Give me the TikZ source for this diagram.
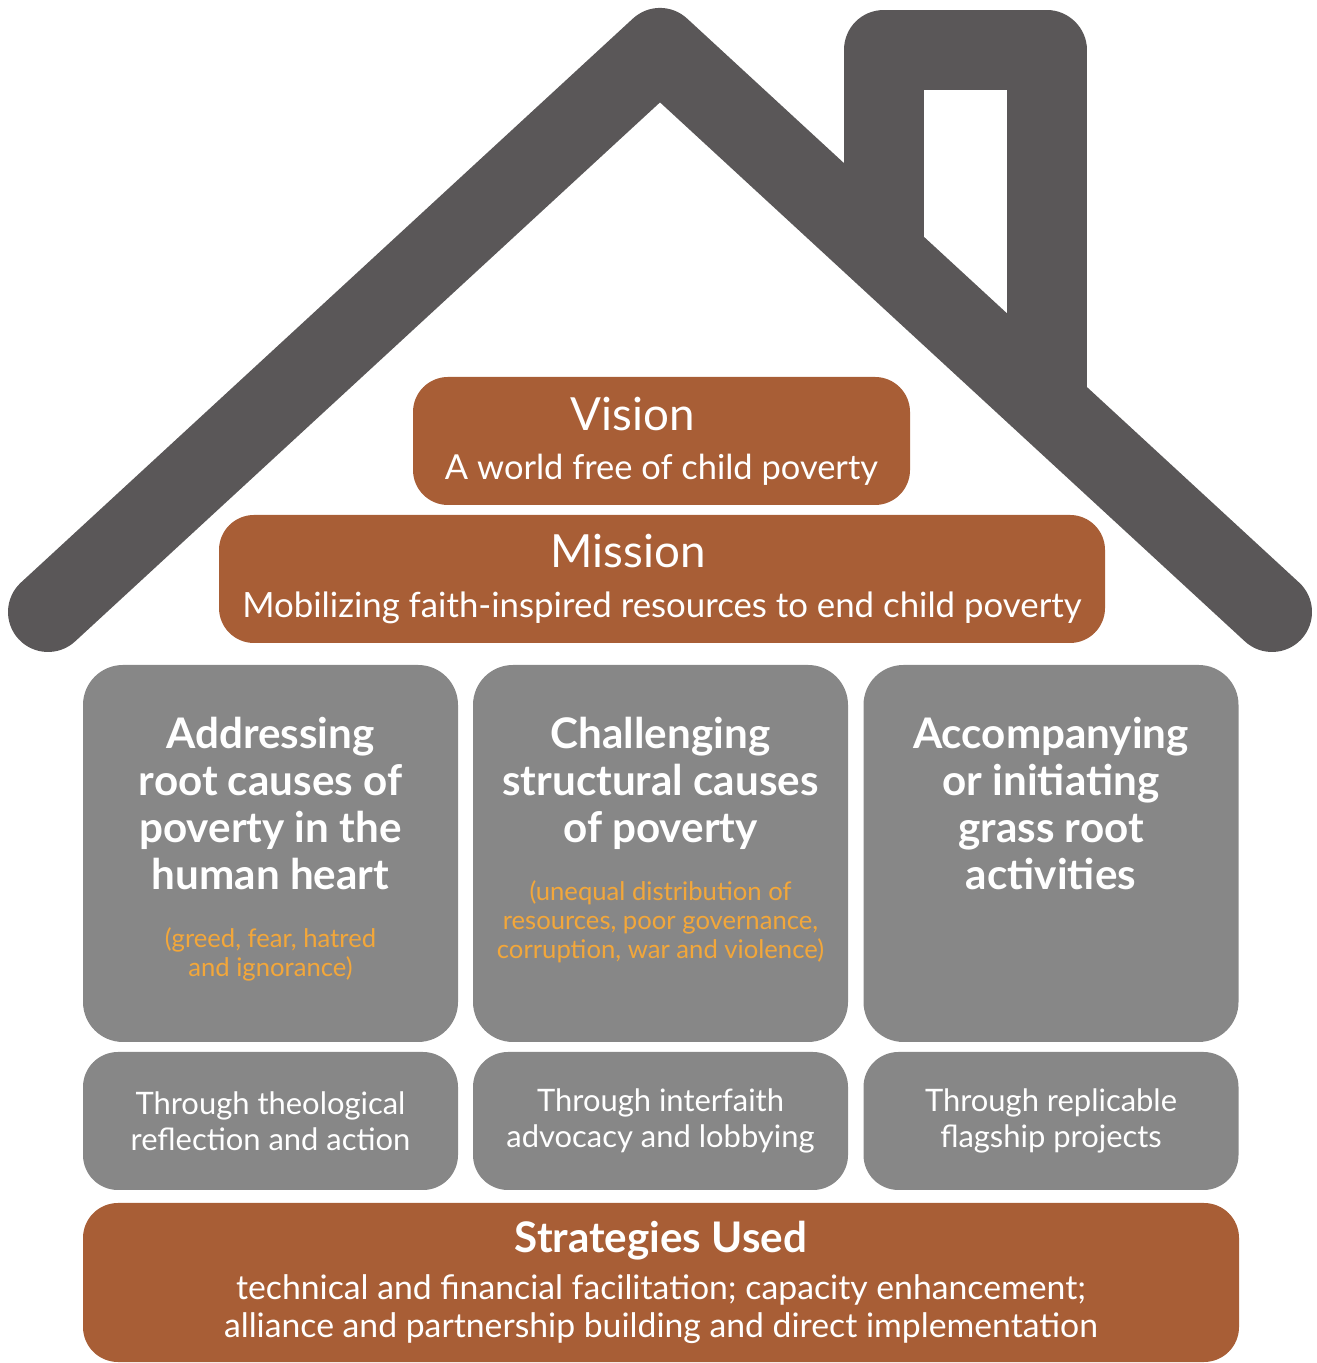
\documentclass[tikz,border=0pt]{standalone}
\usepackage{fontspec}
\setmainfont{Lato}
\usetikzlibrary{positioning}
\definecolor{roofgray}{HTML}{5A5758}
\definecolor{rust}{HTML}{A85E36}
\definecolor{boxgray}{HTML}{878787}
\definecolor{noteorange}{HTML}{F3A73A}
\tikzset{
  roof/.style={draw=roofgray,line width=0.8cm,line cap=round,line join=round},
  brownbox/.style={fill=rust,rounded corners=0.35cm,text=white,align=center,inner sep=0pt},
  pillar/.style={fill=boxgray,rounded corners=0.4cm,minimum width=3.75cm,minimum height=3.77cm,inner sep=0pt},
  footing/.style={fill=boxgray,rounded corners=0.35cm,minimum width=3.75cm,minimum height=1.38cm,inner sep=0pt,
    text=white,align=center,font=\fontsize{8.8}{10.2}\selectfont},
  pillartitle/.style={text=white,align=center,inner sep=0pt,font=\bfseries\fontsize{12}{13.4}\selectfont},
  note/.style={text=noteorange,align=center,inner sep=0pt,font=\fontsize{7.3}{8.2}\selectfont}
}
\begin{document}
\begin{tikzpicture}
    \useasboundingbox (0,0) rectangle (13.16,13.63);
    %% Roof
    \draw[roof] (0.48,7.51) -- (6.60,13.15) -- (12.72,7.51);
    %% Chimney
    \draw[roof,line cap=butt] (8.835,11.10) -- (8.835,13.13) -- (10.465,13.13) -- (10.465,9.60);
    %% Vision and mission
    \node[brownbox,minimum width=4.97cm,minimum height=1.28cm,font=\fontsize{9.8}{14}\selectfont] (vision) at (6.615,9.22)
        {{\fontsize{13}{14}\selectfont Vision\hspace*{0.58cm}}\\A world free of child poverty};
    \node[brownbox,minimum width=8.86cm,minimum height=1.28cm,font=\fontsize{9.9}{14}\selectfont] (mission) at (6.62,7.84)
        {{\fontsize{13}{14}\selectfont Mission\hspace*{0.68cm}}\\Mobilizing faith-inspired resources to end child poverty};
    %% Pillars
    \node[pillar] (p1) at (2.705,5.095) {};
    \node[pillar] (p2) at (6.605,5.095) {};
    \node[pillar] (p3) at (10.51,5.095) {};
    \node[pillartitle,anchor=north] (t1) at ([yshift=-0.52cm]p1.north) {Addressing\\root causes of\\poverty in the\\human heart};
    \node[pillartitle,anchor=north] (t2) at ([yshift=-0.52cm]p2.north) {Challenging\\structural causes\\of poverty};
    \node[pillartitle,anchor=north] (t3) at ([yshift=-0.52cm]p3.north) {Accompanying\\or initiating\\grass root\\activities};
    \node[note,below=0.36cm of t1] (n1) {(greed, fear, hatred\\and ignorance)};
    \node[note,below=0.30cm of t2] (n2) {(unequal distribution of\\resources, poor governance,\\corruption, war and violence)};
    %% Ways
    \node[footing] (f1) at (2.705,2.42) {Through theological\\reflection and action};
    \node[footing] (f2) at (6.605,2.42) {Through interfaith\\advocacy and lobbying};
    \node[footing] (f3) at (10.51,2.42) {Through replicable\\flagship projects};
    %% Strategies
    \node[brownbox,minimum width=11.56cm,minimum height=1.59cm,font=\fontsize{9.6}{10.8}\selectfont] (strat) at (6.61,0.805)
        {{\bfseries\fontsize{12}{10.8}\selectfont Strategies Used}\\[2.5pt]technical and financial facilitation; capacity enhancement;\\alliance and partnership building and direct implementation};
\end{tikzpicture}
\end{document}
